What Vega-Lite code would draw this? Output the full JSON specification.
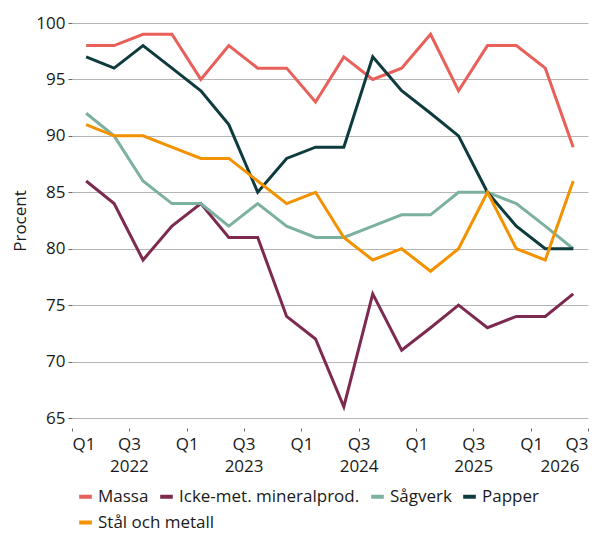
{
  "$schema": "https://vega.github.io/schema/vega-lite/v6.json",
  "width": 516,
  "height": 395,
  "autosize": {"type": "none"},
  "padding": {"left": 72, "top": 23, "right": 13, "bottom": 115},
  "config": {
    "font": "Open Sans",
    "view": {"stroke": null},
    "axis": {
      "labelFont": "Open Sans",
      "labelFontSize": 17,
      "labelColor": "#1a1a1a",
      "titleFont": "Open Sans",
      "titleFontSize": 17,
      "titleFontWeight": "normal",
      "titleColor": "#1a1a1a",
      "tickColor": "#666666",
      "gridColor": "#b5b5b5",
      "gridWidth": 1,
      "domain": false
    },
    "legend": {
      "labelFont": "Open Sans",
      "labelFontSize": 17,
      "labelColor": "#1a1a1a",
      "labelLimit": 400,
      "symbolType": "stroke",
      "symbolStrokeWidth": 4,
      "symbolSize": 160,
      "labelOffset": 4,
      "columnPadding": 3,
      "padding": 0
    }
  },
  "datasets": {
    "series": [
      {"datum": "2022-02-15", "serie": "Massa", "procent": 98},
      {"datum": "2022-05-15", "serie": "Massa", "procent": 98},
      {"datum": "2022-08-15", "serie": "Massa", "procent": 99},
      {"datum": "2022-11-15", "serie": "Massa", "procent": 99},
      {"datum": "2023-02-15", "serie": "Massa", "procent": 95},
      {"datum": "2023-05-15", "serie": "Massa", "procent": 98},
      {"datum": "2023-08-15", "serie": "Massa", "procent": 96},
      {"datum": "2023-11-15", "serie": "Massa", "procent": 96},
      {"datum": "2024-02-15", "serie": "Massa", "procent": 93},
      {"datum": "2024-05-15", "serie": "Massa", "procent": 97},
      {"datum": "2024-08-15", "serie": "Massa", "procent": 95},
      {"datum": "2024-11-15", "serie": "Massa", "procent": 96},
      {"datum": "2025-02-15", "serie": "Massa", "procent": 99},
      {"datum": "2025-05-15", "serie": "Massa", "procent": 94},
      {"datum": "2025-08-15", "serie": "Massa", "procent": 98},
      {"datum": "2025-11-15", "serie": "Massa", "procent": 98},
      {"datum": "2026-02-15", "serie": "Massa", "procent": 96},
      {"datum": "2026-05-15", "serie": "Massa", "procent": 89},

      {"datum": "2022-02-15", "serie": "Icke-met. mineralprod.", "procent": 86},
      {"datum": "2022-05-15", "serie": "Icke-met. mineralprod.", "procent": 84},
      {"datum": "2022-08-15", "serie": "Icke-met. mineralprod.", "procent": 79},
      {"datum": "2022-11-15", "serie": "Icke-met. mineralprod.", "procent": 82},
      {"datum": "2023-02-15", "serie": "Icke-met. mineralprod.", "procent": 84},
      {"datum": "2023-05-15", "serie": "Icke-met. mineralprod.", "procent": 81},
      {"datum": "2023-08-15", "serie": "Icke-met. mineralprod.", "procent": 81},
      {"datum": "2023-11-15", "serie": "Icke-met. mineralprod.", "procent": 74},
      {"datum": "2024-02-15", "serie": "Icke-met. mineralprod.", "procent": 72},
      {"datum": "2024-05-15", "serie": "Icke-met. mineralprod.", "procent": 66},
      {"datum": "2024-08-15", "serie": "Icke-met. mineralprod.", "procent": 76},
      {"datum": "2024-11-15", "serie": "Icke-met. mineralprod.", "procent": 71},
      {"datum": "2025-02-15", "serie": "Icke-met. mineralprod.", "procent": 73},
      {"datum": "2025-05-15", "serie": "Icke-met. mineralprod.", "procent": 75},
      {"datum": "2025-08-15", "serie": "Icke-met. mineralprod.", "procent": 73},
      {"datum": "2025-11-15", "serie": "Icke-met. mineralprod.", "procent": 74},
      {"datum": "2026-02-15", "serie": "Icke-met. mineralprod.", "procent": 74},
      {"datum": "2026-05-15", "serie": "Icke-met. mineralprod.", "procent": 76},

      {"datum": "2022-02-15", "serie": "Sågverk", "procent": 92},
      {"datum": "2022-05-15", "serie": "Sågverk", "procent": 90},
      {"datum": "2022-08-15", "serie": "Sågverk", "procent": 86},
      {"datum": "2022-11-15", "serie": "Sågverk", "procent": 84},
      {"datum": "2023-02-15", "serie": "Sågverk", "procent": 84},
      {"datum": "2023-05-15", "serie": "Sågverk", "procent": 82},
      {"datum": "2023-08-15", "serie": "Sågverk", "procent": 84},
      {"datum": "2023-11-15", "serie": "Sågverk", "procent": 82},
      {"datum": "2024-02-15", "serie": "Sågverk", "procent": 81},
      {"datum": "2024-05-15", "serie": "Sågverk", "procent": 81},
      {"datum": "2024-08-15", "serie": "Sågverk", "procent": 82},
      {"datum": "2024-11-15", "serie": "Sågverk", "procent": 83},
      {"datum": "2025-02-15", "serie": "Sågverk", "procent": 83},
      {"datum": "2025-05-15", "serie": "Sågverk", "procent": 85},
      {"datum": "2025-08-15", "serie": "Sågverk", "procent": 85},
      {"datum": "2025-11-15", "serie": "Sågverk", "procent": 84},
      {"datum": "2026-02-15", "serie": "Sågverk", "procent": 82},
      {"datum": "2026-05-15", "serie": "Sågverk", "procent": 80},

      {"datum": "2022-02-15", "serie": "Papper", "procent": 97},
      {"datum": "2022-05-15", "serie": "Papper", "procent": 96},
      {"datum": "2022-08-15", "serie": "Papper", "procent": 98},
      {"datum": "2022-11-15", "serie": "Papper", "procent": 96},
      {"datum": "2023-02-15", "serie": "Papper", "procent": 94},
      {"datum": "2023-05-15", "serie": "Papper", "procent": 91},
      {"datum": "2023-08-15", "serie": "Papper", "procent": 85},
      {"datum": "2023-11-15", "serie": "Papper", "procent": 88},
      {"datum": "2024-02-15", "serie": "Papper", "procent": 89},
      {"datum": "2024-05-15", "serie": "Papper", "procent": 89},
      {"datum": "2024-08-15", "serie": "Papper", "procent": 97},
      {"datum": "2024-11-15", "serie": "Papper", "procent": 94},
      {"datum": "2025-02-15", "serie": "Papper", "procent": 92},
      {"datum": "2025-05-15", "serie": "Papper", "procent": 90},
      {"datum": "2025-08-15", "serie": "Papper", "procent": 85},
      {"datum": "2025-11-15", "serie": "Papper", "procent": 82},
      {"datum": "2026-02-15", "serie": "Papper", "procent": 80},
      {"datum": "2026-05-15", "serie": "Papper", "procent": 80},

      {"datum": "2022-02-15", "serie": "Stål och metall", "procent": 91},
      {"datum": "2022-05-15", "serie": "Stål och metall", "procent": 90},
      {"datum": "2022-08-15", "serie": "Stål och metall", "procent": 90},
      {"datum": "2022-11-15", "serie": "Stål och metall", "procent": 89},
      {"datum": "2023-02-15", "serie": "Stål och metall", "procent": 88},
      {"datum": "2023-05-15", "serie": "Stål och metall", "procent": 88},
      {"datum": "2023-08-15", "serie": "Stål och metall", "procent": 86},
      {"datum": "2023-11-15", "serie": "Stål och metall", "procent": 84},
      {"datum": "2024-02-15", "serie": "Stål och metall", "procent": 85},
      {"datum": "2024-05-15", "serie": "Stål och metall", "procent": 81},
      {"datum": "2024-08-15", "serie": "Stål och metall", "procent": 79},
      {"datum": "2024-11-15", "serie": "Stål och metall", "procent": 80},
      {"datum": "2025-02-15", "serie": "Stål och metall", "procent": 78},
      {"datum": "2025-05-15", "serie": "Stål och metall", "procent": 80},
      {"datum": "2025-08-15", "serie": "Stål och metall", "procent": 85},
      {"datum": "2025-11-15", "serie": "Stål och metall", "procent": 80},
      {"datum": "2026-02-15", "serie": "Stål och metall", "procent": 79},
      {"datum": "2026-05-15", "serie": "Stål och metall", "procent": 86}
    ],
    "years": [
      {"datum": "2022-07-01", "ar": "2022"},
      {"datum": "2023-07-01", "ar": "2023"},
      {"datum": "2024-07-01", "ar": "2024"},
      {"datum": "2025-07-01", "ar": "2025"},
      {"datum": "2026-04-01", "ar": "2026"}
    ]
  },
  "layer": [
    {
      "data": {"name": "series"},
      "transform": [{"filter": "datum.serie != 'Stål och metall'"}],
      "mark": {"type": "line", "strokeWidth": 3},
      "encoding": {
        "x": {
          "field": "datum",
          "type": "temporal",
          "scale": {"type": "utc", "domain": ["2022-01-01", "2026-07-01"]},
          "axis": {
            "title": null,
            "grid": false,
            "offset": 10,
            "tickSize": 3,
            "labelPadding": 5,
            "values": ["2022-01-01", "2022-07-01", "2023-01-01", "2023-07-01", "2024-01-01", "2024-07-01", "2025-01-01", "2025-07-01", "2026-01-01", "2026-07-01"],
            "labelExpr": "utcmonth(datum.value) == 0 ? 'Q1' : 'Q3'"
          }
        },
        "y": {
          "field": "procent",
          "type": "quantitative",
          "scale": {"domain": [65, 100], "nice": false, "zero": false},
          "axis": {
            "title": "Procent",
            "values": [65, 70, 75, 80, 85, 90, 95, 100],
            "tickSize": 4,
            "labelPadding": 3,
            "titlePadding": 6
          }
        },
        "color": {
          "field": "serie",
          "type": "nominal",
          "sort": ["Massa", "Icke-met. mineralprod.", "Sågverk", "Papper"],
          "scale": {
            "domain": ["Massa", "Icke-met. mineralprod.", "Sågverk", "Papper"],
            "range": ["#e95f5a", "#7d2a50", "#7cb19f", "#0e3b3d"]
          },
          "legend": {
            "title": null,
            "orient": "none",
            "legendX": 5,
            "legendY": 465,
            "direction": "horizontal"
          }
        }
      }
    },
    {
      "data": {"name": "series"},
      "transform": [{"filter": "datum.serie == 'Stål och metall'"}],
      "mark": {"type": "line", "strokeWidth": 3},
      "encoding": {
        "x": {"field": "datum", "type": "temporal", "axis": null},
        "y": {"field": "procent", "type": "quantitative"},
        "color": {
          "field": "serie",
          "type": "nominal",
          "scale": {"domain": ["Stål och metall"], "range": ["#f39200"]},
          "legend": {
            "title": null,
            "orient": "none",
            "legendX": 5,
            "legendY": 491,
            "direction": "horizontal"
          }
        }
      }
    },
    {
      "data": {"name": "years"},
      "mark": {"type": "point", "opacity": 0},
      "encoding": {
        "x": {
          "field": "datum",
          "type": "temporal",
          "axis": {
            "orient": "bottom",
            "title": null,
            "grid": false,
            "ticks": false,
            "domain": false,
            "offset": 10,
            "labelPadding": 30,
            "values": ["2022-07-01", "2023-07-01", "2024-07-01", "2025-07-01", "2026-04-01"],
            "labelExpr": "utcyear(datum.value)"
          }
        },
        "y": {"datum": 65, "type": "quantitative"}
      }
    }
  ],
  "resolve": {"axis": {"x": "independent"}, "scale": {"color": "independent"}}
}
